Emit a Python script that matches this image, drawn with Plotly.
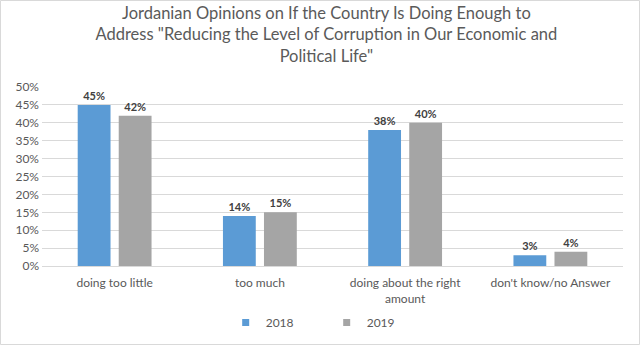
import plotly.graph_objects as go

categories = ["doing too little", "too much", "doing about the right<br>amount", "don't know/no Answer"]
years = ["2018", "2019"]
values_2018 = [0.45, 0.14, 0.38, 0.03]
values_2019 = [0.42, 0.15, 0.40, 0.04]
colors = ["#5b9bd5", "#a5a5a5"]
tick_vals = [0, 0.05, 0.10, 0.15, 0.20, 0.25, 0.30, 0.35, 0.40, 0.45, 0.50]
tick_text = ["0%", "5%", "10%", "15%", "20%", "25%", "30%", "35%", "40%", "45%", "50%"]

FONT = "Lato, Open Sans, sans-serif"

fig = go.Figure()
for name, vals, col in zip(years, [values_2018, values_2019], colors):
    fig.add_trace(go.Bar(
        x=categories, y=vals, name=name, marker=dict(color=col, line=dict(width=0)),
        text=[f"{round(v*100)}%" for v in vals], textposition="outside",
        textfont=dict(family=FONT, size=11, color="#404040", weight="bold"),
        cliponaxis=False, showlegend=False,
    ))
    fig.add_trace(go.Scatter(
        x=[None], y=[None], mode="markers", name=name,
        marker=dict(symbol="square", size=7, color=col), showlegend=True,
    ))

W, H = 640, 345
L, R, T, B = 42, 17, 87, 79
pw = W - L - R
ph = H - T - B

fig.update_layout(
    width=W, height=H,
    margin=dict(l=L, r=R, t=T, b=B, autoexpand=False),
    paper_bgcolor="white", plot_bgcolor="white",
    barmode="group", bargap=0.435, bargroupgap=0.2,
    font=dict(family=FONT, size=12, color="#595959"),
    title=dict(
        text="Jordanian Opinions on If the Country Is Doing Enough to<br>Address \"Reducing the Level of Corruption in Our Economic and<br>Political Life\"",
        x=0.51, xanchor="center", y=0.945, yanchor="top",
        font=dict(family=FONT, size=16.5, color="#5a5a5a", weight=400),
    ),
    xaxis=dict(showline=True, linecolor="#d9d9d9", linewidth=1, ticks="",
               tickfont=dict(size=12, color="#595959"), showgrid=False,
               ticklabelstandoff=6, automargin=False),
    yaxis=dict(range=[0, 0.5], tickvals=tick_vals, ticktext=tick_text,
               showgrid=True, gridcolor="#d9d9d9", gridwidth=1, zeroline=False,
               showline=False, ticks="", tickfont=dict(size=12, color="#595959"),
               ticklabelstandoff=2, automargin=False),
    legend=dict(orientation="h", x=0.49, xanchor="center", y=-0.235, yanchor="top",
                font=dict(size=12, color="#595959"), itemwidth=30, traceorder="normal",
                entrywidth=56, entrywidthmode="pixels"),
    showlegend=True,
)

fig.add_shape(type="rect", xref="paper", yref="paper",
              x0=(0.5 - L) / pw, x1=(W - 0.5 - L) / pw,
              y0=-(B - 0.5) / ph, y1=(H - B - 0.5) / ph,
              line=dict(color="#d9d9d9", width=1), fillcolor="rgba(0,0,0,0)", layer="below")

fig.write_html("out.html")
